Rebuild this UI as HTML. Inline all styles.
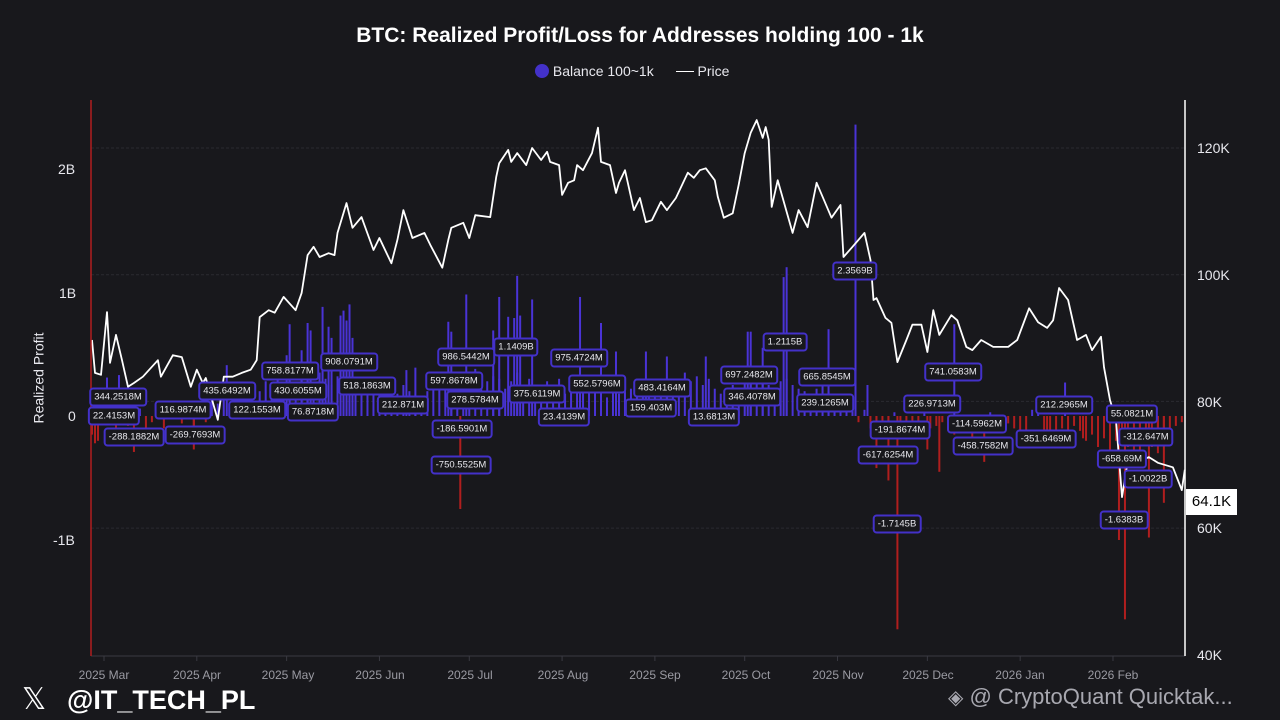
<!DOCTYPE html>
<html><head><meta charset="utf-8">
<style>
body{margin:0;width:1280px;height:720px;background:#18181c;overflow:hidden;font-family:"Liberation Sans",sans-serif;position:relative}
.ann{position:absolute;transform:translate(-50%,-50%);border:2px solid #4331c9;border-radius:4px;background:#18181c;color:#e8e8ee;font-size:9.5px;line-height:15px;padding:0 3px;white-space:nowrap}
.xl{position:absolute;top:668px;font-size:12px;color:#9a9aa2;transform:translateX(-50%)}
.yl{position:absolute;font-size:14px;color:#e8e8ee}
</style></head><body>
<div style="position:absolute;top:24px;width:1280px;text-align:center;color:#fff;font-weight:bold;font-size:21px">BTC: Realized Profit/Loss for Addresses holding 100 - 1k</div>
<div style="position:absolute;top:63px;left:535px;color:#e8e8ee;font-size:14px;white-space:nowrap">
<span><span style="display:inline-block;width:14px;height:14px;border-radius:7px;background:#4331c9;vertical-align:-2px"></span> Balance 100~1k</span>
<span style="margin-left:18px"><span style="display:inline-block;width:18px;height:1.5px;background:#fff;vertical-align:4px"></span> Price</span>
</div>
<div style="position:absolute;left:-7px;top:370px;transform:rotate(-90deg);color:#e8e8ee;font-size:14px">Realized Profit</div>
<svg id="chart" width="1280" height="720" style="position:absolute;left:0;top:0"></svg>
<div class="yl" style="left:58px;top:161px">2B</div>
<div class="yl" style="left:59px;top:285px">1B</div>
<div class="yl" style="left:68px;top:408px">0</div>
<div class="yl" style="left:53px;top:532px">-1B</div>
<div class="yl" style="left:1197px;top:140px">120K</div>
<div class="yl" style="left:1197px;top:267px">100K</div>
<div class="yl" style="left:1197px;top:394px">80K</div>
<div class="yl" style="left:1197px;top:520px">60K</div>
<div class="yl" style="left:1197px;top:647px">40K</div>
<div style="position:absolute;left:1186px;top:489px;width:51px;height:26px;background:#fff;color:#000;font-size:15px;line-height:26px;text-align:center">64.1K</div>
<div class="xl" style="left:104px">2025 Mar</div>
<div class="xl" style="left:197px">2025 Apr</div>
<div class="xl" style="left:288px">2025 May</div>
<div class="xl" style="left:380px">2025 Jun</div>
<div class="xl" style="left:470px">2025 Jul</div>
<div class="xl" style="left:563px">2025 Aug</div>
<div class="xl" style="left:655px">2025 Sep</div>
<div class="xl" style="left:746px">2025 Oct</div>
<div class="xl" style="left:838px">2025 Nov</div>
<div class="xl" style="left:928px">2025 Dec</div>
<div class="xl" style="left:1020px">2026 Jan</div>
<div class="xl" style="left:1113px">2026 Feb</div>

<div class="ann" style="left:118px;top:397px">344.2518M</div>
<div class="ann" style="left:114px;top:416px">22.4153M</div>
<div class="ann" style="left:134px;top:437px">-288.1882M</div>
<div class="ann" style="left:195px;top:435px">-269.7693M</div>
<div class="ann" style="left:183px;top:410px">116.9874M</div>
<div class="ann" style="left:227px;top:391px">435.6492M</div>
<div class="ann" style="left:257px;top:410px">122.1553M</div>
<div class="ann" style="left:290px;top:371px">758.8177M</div>
<div class="ann" style="left:298px;top:391px">430.6055M</div>
<div class="ann" style="left:313px;top:412px">76.8718M</div>
<div class="ann" style="left:349px;top:362px">908.0791M</div>
<div class="ann" style="left:367px;top:386px">518.1863M</div>
<div class="ann" style="left:403px;top:405px">212.871M</div>
<div class="ann" style="left:466px;top:357px">986.5442M</div>
<div class="ann" style="left:454px;top:381px">597.8678M</div>
<div class="ann" style="left:475px;top:400px">278.5784M</div>
<div class="ann" style="left:462px;top:429px">-186.5901M</div>
<div class="ann" style="left:461px;top:465px">-750.5525M</div>
<div class="ann" style="left:516px;top:347px">1.1409B</div>
<div class="ann" style="left:537px;top:394px">375.6119M</div>
<div class="ann" style="left:564px;top:417px">23.4139M</div>
<div class="ann" style="left:579px;top:358px">975.4724M</div>
<div class="ann" style="left:597px;top:384px">552.5796M</div>
<div class="ann" style="left:651px;top:408px">159.403M</div>
<div class="ann" style="left:662px;top:388px">483.4164M</div>
<div class="ann" style="left:714px;top:417px">13.6813M</div>
<div class="ann" style="left:749px;top:375px">697.2482M</div>
<div class="ann" style="left:752px;top:397px">346.4078M</div>
<div class="ann" style="left:785px;top:342px">1.2115B</div>
<div class="ann" style="left:827px;top:377px">665.8545M</div>
<div class="ann" style="left:825px;top:403px">239.1265M</div>
<div class="ann" style="left:855px;top:271px">2.3569B</div>
<div class="ann" style="left:900px;top:430px">-191.8674M</div>
<div class="ann" style="left:888px;top:455px">-617.6254M</div>
<div class="ann" style="left:897px;top:524px">-1.7145B</div>
<div class="ann" style="left:932px;top:404px">226.9713M</div>
<div class="ann" style="left:953px;top:372px">741.0583M</div>
<div class="ann" style="left:977px;top:424px">-114.5962M</div>
<div class="ann" style="left:983px;top:446px">-458.7582M</div>
<div class="ann" style="left:1046px;top:439px">-351.6469M</div>
<div class="ann" style="left:1064px;top:405px">212.2965M</div>
<div class="ann" style="left:1132px;top:414px">55.0821M</div>
<div class="ann" style="left:1146px;top:437px">-312.647M</div>
<div class="ann" style="left:1122px;top:459px">-658.69M</div>
<div class="ann" style="left:1148px;top:479px">-1.0022B</div>
<div class="ann" style="left:1124px;top:520px">-1.6383B</div>

<div style="position:absolute;left:22px;top:684px;color:#fff;font-size:30px;line-height:32px">𝕏</div>
<div style="position:absolute;left:67px;top:684px;color:#fff;font-size:27px;font-weight:bold;line-height:32px">@IT_TECH_PL</div>
<div style="position:absolute;left:948px;top:681px;color:#a8a8b0;font-size:22px;line-height:32px;white-space:nowrap"><span style="font-size:20px">◈</span> @ CryptoQuant Quicktak...</div>

<script>
const priceDays=[-4,-3,-1,1,2,4,6,8,10,13,18,19,23,26,29,31,33,34,38,40,43,46,49,51,52,55,57,60,64,66,68,70,72,75,77,78,81,83,86,90,92,96,98,100,103,107,109,113,115,116,120,122,124,129,131,132,135,136,138,141,143,146,148,149,152,153,155,157,158,160,163,165,166,169,171,172,174,177,179,181,183,186,188,191,195,197,199,201,204,205,207,210,212,214,216,218,220,221,222,223,225,230,232,235,238,240,243,246,247,250,254,256,257,258,261,263,265,268,270,273,275,277,279,283,285,288,290,293,297,302,305,309,312,315,317,319,322,325,328,330,333,334,336,338,340,342,345,349,352,357,360,361];
const priceVals=[89.7,84.5,84.2,94.1,86.1,90.5,86.5,82.3,82.9,83.9,86.5,83.9,87.3,87.0,82.3,85.0,82.9,83.7,77.1,83.9,83.9,84.5,85.0,86.5,93.3,94.4,94.0,96.5,94.4,97.1,103.1,104.4,102.8,103.4,103.1,106.6,111.3,107.4,109.1,103.9,105.8,101.8,105.5,110.2,105.8,106.6,104.7,101.1,105.5,107.4,108.2,105.8,109.4,109.1,115.4,117.6,119.7,117.8,119.2,117.3,120.0,118.1,119.4,117.8,117.3,112.6,114.5,114.9,117.3,116.5,119.2,123.2,117.8,117.3,112.9,114.5,116.5,110.2,112.1,108.3,108.6,111.5,110.2,112.1,116.1,115.3,116.5,116.8,114.9,112.3,109.0,109.7,114.2,119.2,122.4,124.4,121.6,123.3,121.3,110.7,114.9,106.6,110.2,107.5,114.5,112.3,109.0,111.0,102.8,104.4,106.6,102.3,96.0,96.3,93.2,92.4,86.2,89.7,92.1,92.1,87.8,94.4,90.5,93.6,92.8,88.6,88.1,89.7,88.6,88.6,89.7,94.7,92.5,91.6,92.8,97.9,96.0,89.7,90.5,88.1,90.2,85.4,80.2,77.1,64.9,70.7,70.3,71.2,70.3,69.6,66.0,69.2];
const baseStartDay=-4;
const baseVals=[-0.15,-0.2,0.08,0.1,-0.1,0.12,-0.08,0.1,0.06,-0.12,-0.05,0.08,-0.1,0.05,0.1,-0.06,0.07,-0.1,0.12,-0.05,0.15,0.1,0.2,0.06,0.12,0.15,0.08,0.1,
0.2,0.28,0.15,0.3,0.25,0.35,0.2,0.3,0.28,0.22,0.35,0.3,0.25,0.32,0.28,0.3,0.2,0.25,0.3,0.22,
0.28,0.2,0.3,0.18,0.25,0.2,0.15,0.1,0.2,0.25,0.3,0.35,0.28,0.32,0.3,0.25,0.38,0.3,0.28,0.32,
0.3,0.22,0.28,0.35,0.25,0.3,0.2,0.25,0.28,0.22,0.3,0.18,0.25,0.2,0.28,0.3,0.25,0.22,0.15,0.2,
0.18,0.25,0.22,0.3,0.2,0.15,0.22,0.2,0.28,0.25,0.3,0.35,0.28,0.32,0.25,0.3,0.22,0.18,0.2,0.25,
0.22,0.3,0.28,0.35,0.3,0.25,0.2,0.28,0.3,0.25,0.22,0.2,0.18,0.22,0.25,0.2,0.15,0.1,0.08,0.05,
-0.05,0.05,-0.1,-0.08,-0.12,-0.05,0.03,-0.1,-0.08,-0.15,-0.06,0.1,-0.1,-0.08,-0.05,-0.12,-0.15,-0.1,-0.08,-0.05,
-0.1,-0.12,0.03,-0.05,-0.08,-0.06,-0.1,-0.15,-0.12,0.05,0.08,-0.15,-0.2,-0.12,-0.1,-0.15,-0.08,-0.12,-0.2,-0.15,
-0.25,-0.18,-0.3,-0.2,-0.15,-0.25,-0.3,-0.2,-0.15,-0.25,-0.2,-0.1,-0.15,-0.08,-0.05];
const spikeDays=[1,5,-3,10,30,41,61,62,66,68,69,73,75,76,79,80,81,82,83,101,104,115,116,119,121,130,132,135,137,138,139,143,159,166,171,181,188,201,215,216,220,227,228,242,251,255,258,262,265,275,279,284,290,294,315,321,327,334,339,341,346,349,352,354];
const spikeVals=[0.31,0.33,-0.22,-0.29,-0.27,0.41,0.49,0.74,0.53,0.75,0.69,0.88,0.72,0.63,0.81,0.85,0.77,0.9,0.63,0.37,0.39,0.76,0.68,-0.75,0.98,0.69,0.96,0.8,0.79,1.13,0.81,0.94,0.96,0.75,0.52,0.52,0.48,0.48,0.68,0.68,0.55,1.12,1.2,0.7,2.35,0.25,-0.42,-0.52,-1.72,-0.27,-0.45,0.74,-0.31,-0.37,-0.26,0.27,-0.18,-0.15,-1.0,-1.64,-0.33,-0.98,-0.3,-0.7];

const NS="http://www.w3.org/2000/svg";
const svg=document.getElementById('chart');
function xDay(d){return 104+d*2.994;}
function yB(v){return 416-v*124;}
function yP(k){return 148+(120-k)*6.335;}
function mk(tag,attrs){const e=document.createElementNS(NS,tag);for(const k in attrs)e.setAttribute(k,attrs[k]);svg.appendChild(e);return e;}
[120,100,80,60].forEach(k=>{
  const g=mk('line',{x1:91,x2:1185,y1:yP(k),y2:yP(k),stroke:'#2a2a30','stroke-width':1,'stroke-dasharray':'3,2'});
  
  
});
function bar(d,v){
  const y0=yB(0),y1=yB(v);
  const r=mk('rect',{x:xDay(d)-1,y:Math.min(y0,y1),width:2,height:Math.max(1,Math.abs(y1-y0)),fill:v>=0?'#4a33d6':'#b01e1e'});
  
  
}
baseVals.forEach((v,i)=>bar(baseStartDay+i*2,v));
spikeDays.forEach((d,i)=>bar(d,spikeVals[i]));
const pts=priceDays.map((d,i)=>xDay(d).toFixed(1)+','+yP(priceVals[i]).toFixed(1)).join(' ');
const pl=mk('polyline',{points:pts,fill:'none',stroke:'#fff','stroke-width':1.8,'stroke-linejoin':'round'});


const ax=mk('line',{x1:91,x2:1185,y1:656,y2:656,stroke:'#3a3a42','stroke-width':1});


const la=mk('line',{x1:91,x2:91,y1:100,y2:656,stroke:'#b01e1e','stroke-width':1.5});


const ra=mk('line',{x1:1185,x2:1185,y1:100,y2:656,stroke:'#fff','stroke-width':1.5});


[0,31,61,92,122,153,184,214,245,275,306,337].forEach(d=>{
  const t=mk('line',{x1:xDay(d),x2:xDay(d),y1:656,y2:661,stroke:'#3a3a42'});
  
  
});
</script>
</body></html>
